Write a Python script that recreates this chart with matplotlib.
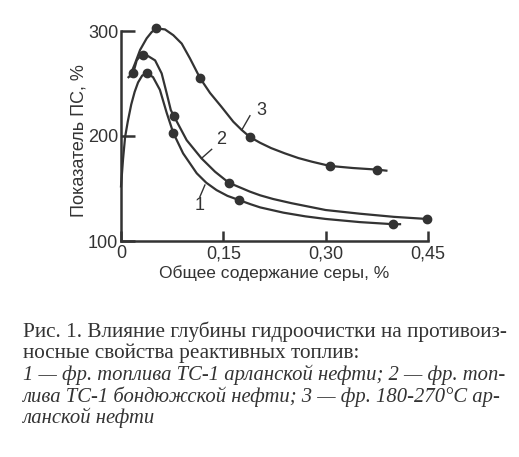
import matplotlib
matplotlib.use("Agg")
import matplotlib.pyplot as plt

# curve traces (sulfur content %, PS index %)
x1 = [0.0, 0.003, 0.006, 0.010, 0.015, 0.020, 0.025, 0.031, 0.038, 0.047, 0.057, 0.067, 0.0766,
      0.091, 0.111, 0.125, 0.14, 0.156, 0.173, 0.19, 0.204, 0.238, 0.27, 0.30, 0.35, 0.399, 0.409]
y1 = [152, 178, 199, 214, 230, 242, 251, 257.5, 260, 256, 244, 222, 203,
      183.5, 164.5, 155.5, 148.5, 143, 139, 135, 132, 127, 123.5, 121, 118, 116, 116]
x2 = [0.011, 0.018, 0.023, 0.028, 0.0327, 0.040, 0.050, 0.0596, 0.067, 0.073, 0.0775, 0.0963,
      0.118, 0.1378, 0.158, 0.189, 0.204, 0.223, 0.25, 0.30, 0.35, 0.40, 0.448]
y2 = [256, 260, 272, 276, 277, 276, 272, 259.6, 240.6, 224.7, 219, 196,
      178.7, 166, 155.5, 147, 143.5, 140, 136, 129.5, 126, 123, 121]
x3 = [0.013, 0.0205, 0.028, 0.0376, 0.045, 0.052, 0.0645, 0.0767, 0.089, 0.101, 0.116, 0.1305,
      0.147, 0.1646, 0.177, 0.189, 0.204, 0.22, 0.24, 0.26, 0.28, 0.306, 0.34, 0.375, 0.389]
y3 = [257, 269, 282, 293, 299, 302.5, 301.5, 296, 288, 274, 255, 241,
      228, 213.6, 205.7, 199, 193.5, 188.5, 183.5, 179, 175.5, 171.5, 169.5, 168, 167]

# measured points (dots)
mx1 = [0.0376, 0.0766, 0.173, 0.399]
my1 = [260, 203, 139, 116]
mx2 = [0.018, 0.0327, 0.0775, 0.158, 0.448]
my2 = [260, 277, 219, 155.5, 121]
mx3 = [0.052, 0.116, 0.189, 0.306, 0.375]
my3 = [302.5, 255, 199, 171.5, 168]

xticks = [0, 0.15, 0.30, 0.45]
xtick_labels = ["0", "0,15", "0,30", "0,45"]
yticks = [100, 200, 300]

caption = [
    ("Рис. 1. Влияние глубины гидроочистки на противоиз-", "normal"),
    ("носные свойства реактивных топлив:", "normal"),
    ("1 — фр. топлива ТС-1 арланской нефти; 2 — фр. топ-", "italic"),
    ("лива ТС-1 бондюжской нефти; 3 — фр. 180-270°С ар-", "italic"),
    ("ланской нефти", "italic"),
]

ink = "#333333"
plt.rcParams["font.family"] = ["Liberation Sans", "DejaVu Sans"]

fig = plt.figure(figsize=(5.19, 4.57), dpi=100)
fig.patch.set_facecolor("white")
W, H = 519, 457
ax = fig.add_axes([121 / W, 1 - 241 / H, (428 - 121) / W, (241 - 31) / H])
ax.set_xlim(0, 0.45)
ax.set_ylim(100, 300)

for xs, ys, mx, my in [(x1, y1, mx1, my1), (x2, y2, mx2, my2), (x3, y3, mx3, my3)]:
    ax.plot(xs, ys, color=ink, lw=1.6, clip_on=False, solid_joinstyle="round")
    ax.plot(mx, my, "o", color=ink, ms=6, clip_on=False)

# curve numbers with leader strokes
ax.text(0.206, 224.7, "3", fontsize=13, color=ink, ha="center", va="center")
ax.plot([0.189, 0.177], [219.3, 205.7], color=ink, lw=1)
ax.text(0.1474, 196.8, "2", fontsize=13, color=ink, ha="center", va="center")
ax.plot([0.1329, 0.118], [187.3, 178.7], color=ink, lw=1)
ax.text(0.1147, 133.5, "1", fontsize=13, color=ink, ha="center", va="center")
ax.plot([0.1157, 0.123], [142.2, 153.3], color=ink, lw=1)

for s in ["top", "right"]:
    ax.spines[s].set_visible(False)
for s in ["left", "bottom"]:
    ax.spines[s].set_color(ink)
    ax.spines[s].set_linewidth(1.8)

ax.set_xticks(xticks)
ax.set_xticklabels(xtick_labels)
ax.set_yticks(yticks)
ax.tick_params(axis="y", direction="in", length=10, width=1.8, color=ink,
               labelsize=13, labelcolor=ink, pad=2)
ax.tick_params(axis="x", direction="in", length=7, width=1.8, color=ink,
               labelsize=13, labelcolor=ink, pad=3)

ax.set_xlabel("Общее содержание серы, %", fontsize=12.5, color=ink, labelpad=2)
ax.set_ylabel("Показатель ПС, %", fontsize=13, color=ink)
ax.yaxis.set_label_coords(-0.11, 0.476)

y0 = 332
for i, (line, style) in enumerate(caption):
    size = 15.3 if style == "normal" else 14.9
    fig.text(23 / W, 1 - (y0 + i * 21.5) / H, line, fontsize=size, style=style,
             family=["Liberation Serif", "DejaVu Serif"], color=ink,
             ha="left", va="center")

fig.savefig("out.png", dpi=100, facecolor="white")
